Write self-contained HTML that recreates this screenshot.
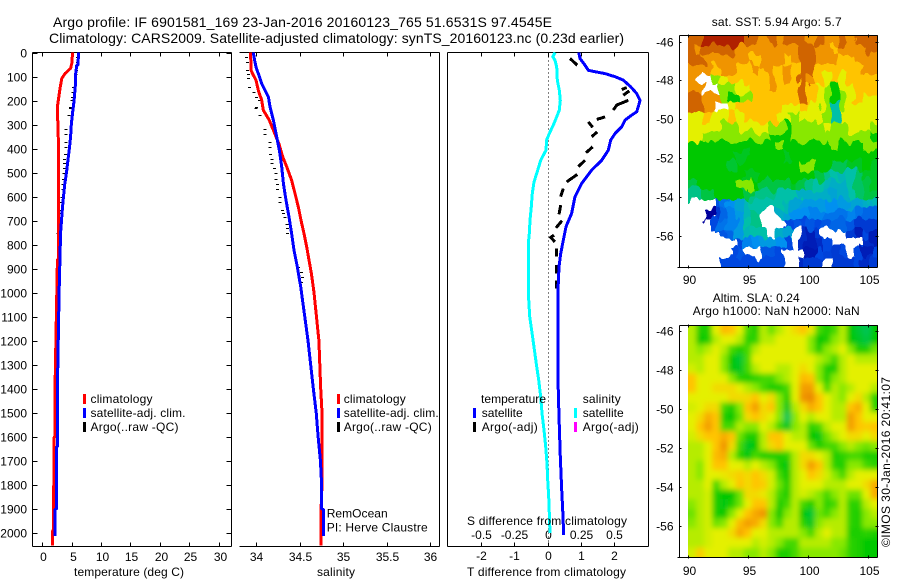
<!DOCTYPE html>
<html>
<head>
<meta charset="utf-8">
<title>Argo profile</title>
<style>
html,body{margin:0;padding:0;background:#fff}
svg{display:block}
text{font-family:"Liberation Sans",sans-serif;font-size:12px;fill:#000}
.title{font-size:14px}
.axis{stroke:#000;stroke-width:1;fill:none;shape-rendering:crispEdges}
.prof{fill:none;stroke-width:3;shape-rendering:crispEdges;stroke-linejoin:miter}
</style>
</head>
<body>
<svg id="chart" xmlns="http://www.w3.org/2000/svg" width="900" height="580" viewBox="0 0 900 580">
<defs>
<clipPath id="clip-sst"><rect x="688" y="35" width="190" height="232"/></clipPath>
<clipPath id="clip-sla"><rect x="688" y="325" width="190" height="232"/></clipPath>
<clipPath id="clip-p1"><rect x="32" y="52" width="199" height="494"/></clipPath>
<clipPath id="clip-p2"><rect x="239" y="52" width="201" height="494"/></clipPath>
<clipPath id="clip-p3"><rect x="447" y="52" width="202" height="494"/></clipPath>
<filter id="sla-blur" x="-5%" y="-5%" width="110%" height="110%"><feGaussianBlur stdDeviation="2.6"/></filter>
<filter id="sst-jag" x="-5%" y="-5%" width="110%" height="110%" color-interpolation-filters="sRGB">
<feTurbulence type="fractalNoise" baseFrequency="0.11 0.05" numOctaves="2" seed="7" result="noise"/>
<feDisplacementMap in="SourceGraphic" in2="noise" scale="16" xChannelSelector="R" yChannelSelector="G"/>
</filter>
</defs>
<text class="title" x="53" y="27" textLength="499" lengthAdjust="spacing">Argo profile: IF 6901581_169 23-Jan-2016 20160123_765 51.6531S 97.4545E</text>
<text class="title" x="49" y="43" textLength="575" lengthAdjust="spacing">Climatology: CARS2009. Satellite-adjusted climatology: synTS_20160123.nc (0.23d earlier)</text>

<g id="maps"></g>
<g id="p1"></g>
<g id="p2"></g>
<g id="p3"></g>

<text x="74" y="576" textLength="110" lengthAdjust="spacing">temperature (deg C)</text>
<text x="317" y="576" textLength="38" lengthAdjust="spacing">salinity</text>
<text x="467" y="576" textLength="159" lengthAdjust="spacing">T difference from climatology</text>

<g>
<rect x="83" y="394" width="3" height="10" fill="#f00"/>
<rect x="83" y="408" width="3" height="10" fill="#00f"/>
<rect x="83" y="422" width="3" height="10" fill="#000"/>
<text x="90.5" y="403" textLength="62" lengthAdjust="spacing">climatology</text>
<text x="90.5" y="417" textLength="95" lengthAdjust="spacing">satellite-adj. clim.</text>
<text x="90.5" y="431" textLength="88" lengthAdjust="spacing">Argo(..raw -QC)</text>
</g>
<g>
<rect x="337" y="394" width="3" height="10" fill="#f00"/>
<rect x="337" y="408" width="3" height="10" fill="#00f"/>
<rect x="337" y="422" width="3" height="10" fill="#000"/>
<text x="343.7" y="403" textLength="62" lengthAdjust="spacing">climatology</text>
<text x="343.7" y="417" textLength="95" lengthAdjust="spacing">satellite-adj. clim.</text>
<text x="343.7" y="431" textLength="88" lengthAdjust="spacing">Argo(..raw -QC)</text>
</g>
<g>
<text x="481" y="403" textLength="65" lengthAdjust="spacing">temperature</text>
<rect x="473" y="408" width="3" height="10" fill="#00f"/>
<rect x="473" y="422" width="3" height="10" fill="#000"/>
<text x="481.7" y="417" textLength="41" lengthAdjust="spacing">satellite</text>
<text x="481.7" y="431" textLength="56" lengthAdjust="spacing">Argo(-adj)</text>
<text x="582.7" y="403" textLength="38" lengthAdjust="spacing">salinity</text>
<rect x="574" y="408" width="3" height="10" fill="#0ff"/>
<rect x="574" y="422" width="3" height="10" fill="#f0f"/>
<text x="582.7" y="417" textLength="41" lengthAdjust="spacing">satellite</text>
<text x="582.7" y="431" textLength="56" lengthAdjust="spacing">Argo(-adj)</text>
</g>
<text x="326.7" y="517.7" textLength="61" lengthAdjust="spacing">RemOcean</text>
<text x="326.7" y="531.7" textLength="101" lengthAdjust="spacing">PI: Herve Claustre</text>
<text x="467" y="525" textLength="160" lengthAdjust="spacing">S difference from climatology</text>

<text x="711.7" y="26" textLength="130" lengthAdjust="spacing">sat. SST: 5.94 Argo: 5.7</text>
<text x="712.7" y="302" textLength="87" lengthAdjust="spacing">Altim. SLA: 0.24</text>
<text x="692.7" y="315" textLength="167" lengthAdjust="spacing">Argo h1000: NaN h2000: NaN</text>
<text transform="translate(890,547) rotate(-90)" textLength="170" lengthAdjust="spacing">©IMOS 30-Jan-2016 20:41:07</text>
</svg>

<script>
// ---- tick labels ----
const depthTicks = [0,100,200,300,400,500,600,700,800,900,1000,1100,1200,1300,1400,1500,1600,1700,1800,1900,2000];
const tempTicks = [0,5,10,15,20,25,30];
const salTicks = ['34','34.5','35','35.5','36'];
const tDiffTicks = [-2,-1,0,1,2];
const sDiffTicks = ['-0.5','-0.25','0','0.25','0.5'];
const lonTicks = [90,95,100,105];
const latTicks = [-46,-48,-50,-52,-54,-56];

// ---- temperature panel ----
const climTempDepth = [0,45,66,88,108,150,185,226,275,295,615,860,865,1000,1400,1600,1605,1805,1810,1990,1995,2055];
const climTemp = [5.15,5.0,4.8,3.85,3.3,3.0,2.8,2.55,2.55,2.7,2.75,2.75,2.55,2.45,2.15,2.15,1.97,1.97,1.85,1.85,1.72,1.72];
const satTempDepth = [0,50,55,100,140,200,250,300,350,400,450,500,550,600,650,700,750,850,1000,1400,1640,1645,1900,1905,2015];
const satTemp = [6.18,6.05,5.85,5.6,5.6,5.4,5.15,4.93,4.8,4.6,4.35,4.1,3.8,3.6,3.4,3.25,3.1,3.0,2.85,2.55,2.55,2.4,2.4,2.15,2.15];
const argoDepth = [18,39,74,90,108,143,164,185,199,226,233,261,317,338,372,393,421,442,462,483,504,525,546,567,601,622,657,668,685,713,733,754,893,914,935,956,976];
const argoTemp = [6.0,6.0,5.8,5.7,5.6,5.3,5.2,5.1,5.0,4.8,4.75,4.5,4.05,4.05,4.0,4.0,3.9,3.8,3.8,3.75,3.7,3.6,3.5,3.5,3.3,3.2,3.0,3.0,2.9,2.8,2.8,2.7,2.6,2.6,2.55,2.5,2.5];

// ---- salinity panel ----
const climSalDepth = [0,74,94,115,157,199,240,282,324,380,435,476,532,587,643,699,754,810,865,921,1000,1200,1400,1500,1800,1900,2055];
const climSal = [33.935,33.939,33.966,33.996,34.023,34.062,34.081,34.15,34.196,34.26,34.303,34.349,34.406,34.445,34.483,34.514,34.548,34.579,34.606,34.633,34.663,34.72,34.74,34.755,34.755,34.745,34.745];
const satSalDepth = [0,32,60,88,129,185,226,282,338,408,476,546,615,685,754,824,893,976,1200,1400,1500,1600,1700,1800,1900,1905,2015];
const satSal = [33.966,33.981,33.996,34.023,34.062,34.139,34.158,34.196,34.226,34.265,34.292,34.311,34.341,34.376,34.406,34.433,34.471,34.51,34.594,34.655,34.688,34.71,34.737,34.75,34.75,34.77,34.77];
const argoSal = [33.89,33.897,33.897,33.908,33.908,33.92,33.974,34.004,34.035,34.004,33.996,34.043,34.10,34.10,34.157,34.157,34.165,34.18,34.18,34.207,34.226,34.226,34.242,34.242,34.27,34.27,34.30,34.31,34.33,34.35,34.357,34.357,34.483,34.52,34.53,34.52,34.514];

// ---- difference panel ----
const diffTDepth = [0,25,53,74,80,88,101,115,143,171,199,226,247,261,282,310,338,365,407,449,490,546,601,671,726,782,838,893,990,1365,1517,1684,1823,1906,2010];
const diffT = [0.931,0.971,1.122,1.222,1.423,1.723,2.024,2.274,2.496,2.677,2.776,2.726,2.677,2.526,2.325,2.225,2.024,1.894,1.823,1.624,1.323,1.022,0.82,0.72,0.55,0.47,0.39,0.34,0.31,0.31,0.34,0.38,0.42,0.45,0.48];
const diffSDepth = [0,18,32,60,115,157,199,240,268,296,338,365,407,449,504,539,587,643,699,754,796,1000,1100,1200,1300,1365,1434,1503,1573,1642,1712,1781,1851,1920,2003];
const diffS = [0.055,0.038,0.055,0.068,0.072,0.087,0.095,0.087,0.068,0.047,0.012,-0.008,-0.013,-0.053,-0.083,-0.103,-0.116,-0.123,-0.133,-0.138,-0.146,-0.146,-0.135,-0.11,-0.085,-0.068,-0.053,-0.043,-0.028,-0.015,-0.005,0,0.0075,0.012,0.017];
const argoDiffDepth = [25,53,null,154,146,null,178,160,null,240,219,199,null,279,268,null,289,312,null,351,331,null,418,393,null,476,449,null,539,508,null,601,567,null,674,636,null,731,701,null,789,771,761,null,851,817,null,921,886,null,983,949];
const argoDiffT = [0.67,0.89,null,2.225,2.375,null,2.274,2.455,null,1.974,2.075,2.425,null,1.474,1.723,null,1.222,1.353,null,1.323,1.49,null,1.152,1.353,null,0.92,1.122,null,0.57,0.89,null,0.39,0.47,null,0.34,0.39,null,0.25,0.43,null,0.22,0.09,0.19,null,0.27,0.27,null,0.27,0.27,null,0.27,0.27];

// ---- map grids (colour level per cell, -1 = no data) ----
const sstGrid = [
[9,9,10,10,10,10,10,9,9,8,9,8,9,9,9,8,9,8,8,9,8,9,9,9],
[9,8,9,9,9,9,8,8,8,8,8,8,8,8,9,9,8,8,7,8,8,8,8,9],
[9,9,8,8,8,8,8,8,7,8,8,8,7,8,9,9,8,8,8,7,7,8,8,8],
[8,8,8,7,8,8,7,7,8,7,8,7,8,7,9,9,7,7,7,7,7,7,8,8],
[8,-1,-1,5,6,7,7,7,7,7,8,7,8,7,9,8,7,6,7,6,7,7,7,7],
[8,8,-1,-1,5,5,6,6,7,7,8,7,7,7,9,7,6,5,4,6,6,7,7,7],
[9,9,8,8,5,4,4,5,7,7,7,7,7,7,9,7,6,5,4,5,6,7,6,6],
[9,9,8,-1,-1,6,7,7,7,7,7,7,6,6,7,6,6,5,3,5,6,6,6,6],
[6,6,7,6,6,7,6,7,7,7,7,6,6,5,6,6,6,5,3,6,6,6,6,6],
[6,6,6,6,5,5,6,6,6,6,5,5,4,5,5,5,5,6,5,5,6,6,6,5],
[6,6,5,5,5,5,5,5,5,5,4,4,4,5,5,5,5,5,5,5,5,5,5,4],
[4,4,4,4,4,4,4,4,4,4,4,5,4,4,4,4,4,4,5,4,4,4,5,5],
[4,4,4,4,4,4,3.8,3.8,4,4,4,4,3.8,4,4,4,4,4,4,4,4,4,4,4],
[4,4,4,4,4,3.7,4,4,4,4,4,4,4,4,5,5,4,4,3.5,3.5,3.8,3.8,4,3.8],
[4,4,4,4,4,4,4,3.8,3.8,4,4,4,4,4,4,4,3.6,3.2,3,2.8,3,3.4,3.8,3.8],
[3.6,4,4,4,4,4,5,5,4,3.6,3.6,3.6,3.6,3.8,3.6,3.2,3,2.8,2.6,2.6,3,3.4,3.6,3.8],
[3.2,3.2,3.6,4,4,4,4,3.6,3.2,3.2,3.2,3,3,3,2.6,2.6,2.6,2.6,2.4,2.6,3,3.4,3.6,3.6],
[-1,-1,-1,1.2,1.6,2,2.4,2.8,3,3,3,3,2.8,2.4,2.2,2.2,2.2,2,2,2.2,2.4,2.4,2.6,2.8],
[-1,-1,0,0.8,1.4,1.8,2.2,2.8,3.2,-1,-1,2.6,2.4,2,2,1.8,1.8,1.6,1.6,1.6,1.8,1.6,1.4,1.4],
[-1,-1,-1,1,1.6,1.8,2.2,3,3.2,-1,-1,-1,1,1.2,1,1.2,1,1.2,1.4,1.4,1.2,0.8,0.8,0.8],
[-1,-1,-1,-1,1.2,1.4,2.2,2.8,3,3,-1,2.6,2.4,-1,0.6,0.4,0.8,-1,-1,-1,0.8,0.4,1,0.4],
[-1,-1,-1,-1,-1,-1,1,1.8,2,2.2,2.2,2,1,-1,0.6,0.4,0.6,1,-1,-1,-1,-1,0.6,0.4],
[-1,-1,-1,-1,-1,1,1.2,-1,-1,1.2,1.2,1,-1,-1,-1,0.3,1,0.9,0.8,1,-1,1,0.4,1],
[-1,-1,-1,-1,1,1,1,1,1,1,1,1,-1,-1,0.6,0.8,0.8,-1,0.8,0.8,0.8,1,0.6,0.8]
];
const slaGrid = [
[5.5,4.2,4.2,6,7.2,7,6,4.5,4.2,5.5,4.8,5.5,6,6.5,7,6.2,4.5,4.2,4.5,5.5,4,3.7,3.5,4],
[5.5,4,4.2,5.5,6,6,5.5,4.3,4.3,5.5,5.5,6,6,6,6,5,4,4.2,5,5.5,4,3.8,3.6,4],
[5.5,5,5.5,6,5.5,4.5,4.2,4.5,5.5,6,6,6,6,6,6,5,4.2,5,5.5,6,5,4.2,4.2,4.8],
[5.5,5.5,6,6,5,4,3.7,4.5,6,6,6,6,6,6,6,6,5.5,5,4.5,5.5,6,5.5,5.5,5.5],
[5.8,5.5,6,6,5,3.9,3.8,4.5,5.5,6,6,5.5,5.5,6,6.5,6,5,4.2,4.2,5.5,6,6,6,6],
[7,6,6,6,6,5,4.3,4.2,4.3,4.5,4.5,5,5.5,6,7.2,7,5,4.2,5,5.5,6,6,6,6],
[7,6,6,6.5,6.5,6.5,6,5.5,5,4.5,4.2,4.2,4.5,6,7.8,7.8,6,4.5,5.5,5,5.5,6,6,5.5],
[6,6,6,6,6,6.5,6.5,6.5,7,6,6.5,5,4.2,6,8,8.2,7,6,5.5,5,6,6.5,5.5,4.3],
[5.8,6,6.5,6.5,4.5,4.2,5,7,7.8,6.5,7,5,3.8,5.5,6.5,7.5,7,6,5.5,5.5,7,7.5,6,4.3],
[6,6.5,7.5,7,4.2,4,4.8,6.5,7,6.5,6,5,3.5,5,6,5.5,6,6,5.5,5.5,7.8,7,6,6],
[6,7,7.8,7,4.5,4.5,5.5,5,5,6,5.5,4.5,3.8,5,5.5,4.3,4.5,5.5,6,6,7.8,7,6.8,7],
[5.8,6.5,7,7,7.5,7,4.8,4.2,4.2,5.5,7,7,6,5.5,5.5,4,3.9,4.8,5.5,6,6.5,6.5,6,6.5],
[5.5,5.5,6,7,8,6.5,4.5,3.8,4,5.5,6.5,7,6,6,6,4.8,4.2,4.5,4.5,5,5.5,5,4.8,5],
[5.5,5.5,6,7.2,7.5,5.5,4.3,3.9,4.5,4.2,4.2,4.2,4.3,5.5,6.5,6.5,6,5.5,4.2,4.3,4.5,4.5,4.2,4.2],
[5.5,5,6,7,7,6,6,5.5,6,5.5,5,4.2,3.9,5.5,6.5,7.8,7,5.5,4.3,4.2,5,5,4.5,4.3],
[5.5,5,6,6,6.2,6.5,6.8,6.5,7,6.5,5.8,4.5,4,5.5,6,7,6.5,5.8,5,4.5,5.5,6,6,6],
[5.5,5.5,6,4.5,5.5,6,7,6.5,7,6.8,5.8,4.8,4.2,5.5,6,6,6,5.5,5.5,5.5,6,6,6.5,7.5],
[5.5,5.5,5.8,4.2,4,4,4.8,6.5,6.5,6.2,5.5,4.5,4.2,5.5,5.8,5.5,5,4.5,5,5.5,4.8,4.8,6,7.5],
[5,5.5,5.8,4.2,3.9,4.2,4.8,6,7,7,5.5,4.2,4.5,5.5,4.5,4.2,5,4.3,4.5,5.5,4.3,4.3,5.5,6],
[4.8,5.5,5.8,4.2,4,5,6,7,7.6,8,5,4,5,5.5,4,3.7,4.8,4.5,5,5.5,4.3,4.2,5,5.5],
[5,5.5,5.8,4.8,5,6,7.2,7.8,7.5,6.5,5,4.5,5.5,5.5,4.3,3.8,5,5.5,5.5,5.5,4.3,4.2,5,5],
[5.5,5.5,5.8,6,6,6.5,7.6,7,6,6,5.5,5.5,5.5,5.5,5,4.5,5.5,6,5.5,5.5,4.2,4.2,4.3,4.2],
[5.5,5.5,5.8,6,6,6,6,6,5.5,5.8,5.5,5,4.5,4.5,5.5,5.5,5.5,5.5,5,5,4.3,4.2,4,4],
[5.8,6.8,6,6,6,5.5,5.5,5,5,5.5,5,4.2,4.2,4.5,5,5,5,5,5,4.8,4.3,4.2,4,4]
];

// ---- scales ----
const NS = 'http://www.w3.org/2000/svg';
function depthY(d){ return 52.5 + d * 0.24; }
function tempX(t){ return 42.4 + t * 5.87; }
function salX(s){ return 256.3 + (s - 34) * 87; }
function diffX(t){ return 547.7 + t * 33.25; }
function lonX(l){ return 688.3 + (l - 90) * 12; }
function latYsst(a){ return 41.5 + (-46 - a) * 19.45; }
function latYsla(a){ return 331.3 + (-46 - a) * 19.47; }

const colourStops = ['#00009c','#0048e0','#0090f0','#00c0a8','#00c800','#88e800','#e4f000','#ffc400','#f09400','#d06400','#b02000'];
function hexRgb(h){ return [parseInt(h.substr(1,2),16),parseInt(h.substr(3,2),16),parseInt(h.substr(5,2),16)]; }
function levelColour(v){
  const i = Math.min(Math.floor(v), colourStops.length - 2);
  const f = v - i;
  const a = hexRgb(colourStops[i]);
  const b = hexRgb(colourStops[i + 1]);
  return 'rgb(' + [0,1,2].map(k => Math.round(a[k] + (b[k] - a[k]) * f)).join(',') + ')';
}

function svgEl(tag, parent){
  const el = document.createElementNS(NS, tag);
  parent.appendChild(el);
  return el;
}
function seg(parent, x1, y1, x2, y2){
  const el = svgEl('line', parent);
  el.setAttribute('class', 'axis');
  el.setAttribute('x1', x1); el.setAttribute('y1', y1);
  el.setAttribute('x2', x2); el.setAttribute('y2', y2);
  return el;
}
function label(parent, x, y, anchor, str){
  const el = svgEl('text', parent);
  el.setAttribute('x', x); el.setAttribute('y', y);
  el.setAttribute('text-anchor', anchor);
  el.textContent = str;
  return el;
}
function profile(parent, xs, ds, fx, colour, width, clip){
  const el = svgEl('polyline', parent);
  el.setAttribute('class', 'prof');
  el.setAttribute('stroke', colour);
  el.setAttribute('stroke-width', width);
  el.setAttribute('clip-path', 'url(#' + clip + ')');
  el.setAttribute('points', xs.map((v, i) => fx(v).toFixed(1) + ',' + depthY(ds[i]).toFixed(1)).join(' '));
  return el;
}

const TOP = 52.5, BOT = 546.5;

// ---- panel 1 ----
const p1 = document.getElementById('p1');
let e;
e = seg(p1, 32.5, TOP, 231.5, TOP);


e = seg(p1, 32.5, BOT, 231.5, BOT);


e = seg(p1, 32.5, TOP, 32.5, BOT);


e = seg(p1, 231.5, TOP, 231.5, BOT);


depthTicks.forEach(d => {
  const y = Math.round(depthY(d)) + 0.5;
  let t = seg(p1, 32.5, y, 37.5, y);
  
  
  t = seg(p1, 226.5, y, 231.5, y);
  
  
  t = label(p1, 27, y + 4, 'end', String(d));
  
  
});
tempTicks.forEach(v => {
  const x = Math.round(tempX(v)) + 0.5;
  let t = seg(p1, x, TOP, x, TOP + 4);
  
  
  t = seg(p1, x, BOT - 4, x, BOT);
  
  
  t = label(p1, x + 1, 561, 'middle', String(v));
  
  
});
argoDepth.forEach((d, i) => {
  const x = tempX(argoTemp[i]);
  const y = Math.round(depthY(d)) + 0.5;
  const t = seg(p1, x - 1.5, y, x + 1.5, y);
  
  
});
e = profile(p1, climTemp, climTempDepth, tempX, '#f00', 3, 'clip-p1');


e = profile(p1, satTemp, satTempDepth, tempX, '#00f', 3, 'clip-p1');



// ---- panel 2 ----
const p2 = document.getElementById('p2');
e = seg(p2, 239.5, TOP, 439.5, TOP);


e = seg(p2, 239.5, BOT, 439.5, BOT);


e = seg(p2, 439.5, TOP, 439.5, BOT);


salTicks.forEach(s => {
  const x = Math.round(salX(parseFloat(s))) + 0.5;
  let t = seg(p2, x, TOP, x, TOP + 4);
  
  
  t = seg(p2, x, BOT - 4, x, BOT);
  
  
  t = label(p2, x, 561, 'middle', s);
  
  
});
argoDepth.forEach((d, i) => {
  const x = salX(argoSal[i]);
  const y = Math.round(depthY(d)) + 0.5;
  const t = seg(p2, x - 1.5, y, x + 1.5, y);
  
  
});
e = profile(p2, climSal, climSalDepth, salX, '#f00', 3, 'clip-p2');


e = profile(p2, satSal, satSalDepth, salX, '#00f', 3, 'clip-p2');



// ---- panel 3 ----
const p3 = document.getElementById('p3');
e = seg(p3, 447.5, TOP, 648.5, TOP);


e = seg(p3, 447.5, BOT, 648.5, BOT);


e = seg(p3, 447.5, TOP, 447.5, BOT);


e = seg(p3, 648.5, TOP, 648.5, BOT);


tDiffTicks.forEach((v, i) => {
  const x = Math.round(diffX(v)) + 0.5;
  let t = seg(p3, x, TOP, x, TOP + 4);
  
  
  t = seg(p3, x, BOT - 4, x, BOT);
  
  
  t = label(p3, x, 560, 'middle', String(v));
  
  
  t = label(p3, x, 539, 'middle', sDiffTicks[i]);
  
  
});
e = seg(p3, 548.5, TOP, 548.5, BOT);
e.setAttribute('stroke-dasharray', '1 3');


e = profile(p3, diffS.map(s => s * 4), diffSDepth, diffX, '#0ff', 3, 'clip-p3');


e = svgEl('path', p3);
let dPath = '', penUp = true;
argoDiffDepth.forEach((d, i) => {
  if (d === null) { penUp = true; return; }
  dPath += (penUp ? 'M' : 'L') + diffX(argoDiffT[i]).toFixed(1) + ' ' + depthY(d).toFixed(1);
  penUp = false;
});
e.setAttribute('d', dPath);
e.setAttribute('class', 'prof');
e.setAttribute('stroke', '#000');


e = profile(p3, diffT, diffTDepth, diffX, '#00f', 2.5, 'clip-p3');



// ---- maps ----
const maps = document.getElementById('maps');
const cellLon = (105.83 - 90) / 24;
const cellLat = (57.6 - 45.68) / 24;

const sstClip = svgEl('g', maps);
sstClip.setAttribute('clip-path', 'url(#clip-sst)');


const sstG = svgEl('g', sstClip);
sstG.setAttribute('filter', 'url(#sst-jag)');
sstG.setAttribute('shape-rendering', 'crispEdges');


sstGrid.forEach((row, r) => {
  row.forEach((v, c) => {
    if (v < 0) return;
    let x0 = lonX(90 + c * cellLon), x1 = lonX(90 + (c + 1) * cellLon);
    let y0 = latYsst(-45.68 - r * cellLat), y1 = latYsst(-45.68 - (r + 1) * cellLat);
    if (c === 0) x0 -= 20;
    if (c === row.length - 1) x1 += 20;
    if (r === 0) y0 -= 20;
    if (r === sstGrid.length - 1) y1 += 20;
    const cell = svgEl('rect', sstG);
    cell.setAttribute('x', x0.toFixed(1));
    cell.setAttribute('y', y0.toFixed(1));
    cell.setAttribute('width', (x1 - x0 + 0.5).toFixed(1));
    cell.setAttribute('height', (y1 - y0 + 0.5).toFixed(1));
    cell.setAttribute('fill', levelColour(v));
    
    
  });
});

const slaClip = svgEl('g', maps);
slaClip.setAttribute('clip-path', 'url(#clip-sla)');


const slaG = svgEl('g', slaClip);
slaG.setAttribute('filter', 'url(#sla-blur)');


slaGrid.forEach((row, r) => {
  row.forEach((v, c) => {
    let x0 = lonX(90 + c * cellLon), x1 = lonX(90 + (c + 1) * cellLon);
    let y0 = latYsla(-45.68 - r * cellLat), y1 = latYsla(-45.68 - (r + 1) * cellLat);
    if (c === 0) x0 -= 20;
    if (c === row.length - 1) x1 += 20;
    if (r === 0) y0 -= 20;
    if (r === slaGrid.length - 1) y1 += 20;
    const cell = svgEl('rect', slaG);
    cell.setAttribute('x', x0.toFixed(1));
    cell.setAttribute('y', y0.toFixed(1));
    cell.setAttribute('width', (x1 - x0 + 0.5).toFixed(1));
    cell.setAttribute('height', (y1 - y0 + 0.5).toFixed(1));
    cell.setAttribute('fill', levelColour(v));
    
    
  });
});

function mapFrame(top, bottom, latY, labelBase, prefix){
  const L = 679.5, R = 877.5;
  let t;
  t = seg(maps, L, top, R, top);
  
  
  t = seg(maps, L, bottom, R, bottom);
  
  
  t = seg(maps, L, top, L, bottom);
  
  
  t = seg(maps, R, top, R, bottom);
  
  
  t = seg(maps, L - 2, bottom, L, bottom);
  
  
  lonTicks.forEach(v => {
    const x = Math.round(lonX(v)) + 0.5;
    let m = seg(maps, x, top - 1, x, top + 2);
    
    
    m = seg(maps, x, bottom - 2, x, bottom + 1);
    
    
    m = label(maps, x + 1, labelBase, 'middle', String(v));
    
    
  });
  latTicks.forEach(v => {
    const y = Math.round(latY(v)) + 0.5;
    let m = seg(maps, L, y, L + 2, y);
    
    
    m = seg(maps, R - 2, y, R + 1, y);
    
    
    m = label(maps, 673.5, y + 4, 'end', String(v));
    
    
  });
}
mapFrame(35.5, 267.5, latYsst, 284, 'sst-map');
mapFrame(325.5, 557.5, latYsla, 575, 'sla-map');
</script>
</body>
</html>
